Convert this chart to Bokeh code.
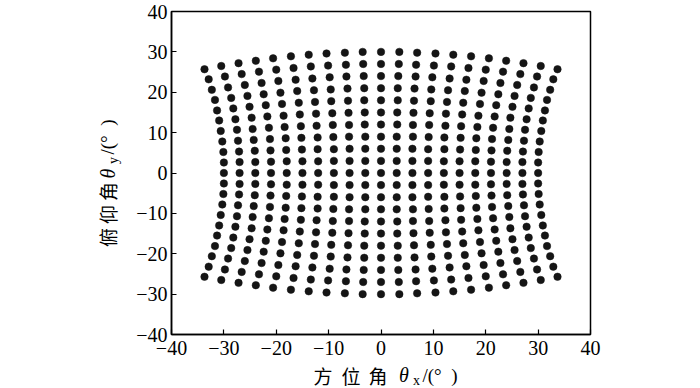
import math
from bokeh.plotting import figure
from bokeh.models import FixedTicker, Label, Range1d, ColumnDataSource
from bokeh.embed import file_html
from bokeh.resources import INLINE

tick_values = [-40, -30, -20, -10, 0, 10, 20, 30, 40]
tick_labels = ["\u221240", "\u221230", "\u221220", "\u221210", "0", "10", "20", "30", "40"]

# azimuth (theta_x) of every point, one list per grid row, top row first
az_rows = [
    [-33.7, -30.5, -27.2, -23.9, -20.6, -17.2, -13.8, -10.4, -6.9, -3.5, 0, 3.5, 6.9, 10.4, 13.8, 17.2, 20.6, 23.9, 27.2, 30.5, 33.7],
    [-32.9, -29.8, -26.6, -23.3, -20.0, -16.7, -13.4, -10.1, -6.7, -3.4, 0, 3.4, 6.7, 10.1, 13.4, 16.7, 20.0, 23.3, 26.6, 29.8, 32.9],
    [-32.3, -29.2, -26.0, -22.8, -19.6, -16.3, -13.1, -9.8, -6.6, -3.3, 0, 3.3, 6.6, 9.8, 13.1, 16.3, 19.6, 22.8, 26.0, 29.2, 32.3],
    [-31.7, -28.6, -25.5, -22.4, -19.2, -16.0, -12.8, -9.6, -6.4, -3.2, 0, 3.2, 6.4, 9.6, 12.8, 16.0, 19.2, 22.4, 25.5, 28.6, 31.7],
    [-31.3, -28.2, -25.1, -22.0, -18.9, -15.7, -12.6, -9.5, -6.3, -3.2, 0, 3.2, 6.3, 9.5, 12.6, 15.7, 18.9, 22.0, 25.1, 28.2, 31.3],
    [-30.9, -27.8, -24.7, -21.7, -18.6, -15.5, -12.4, -9.3, -6.2, -3.1, 0, 3.1, 6.2, 9.3, 12.4, 15.5, 18.6, 21.7, 24.7, 27.8, 30.9],
    [-30.6, -27.5, -24.5, -21.4, -18.4, -15.3, -12.3, -9.2, -6.1, -3.1, 0, 3.1, 6.1, 9.2, 12.3, 15.3, 18.4, 21.4, 24.5, 27.5, 30.6],
    [-30.3, -27.3, -24.3, -21.2, -18.2, -15.2, -12.1, -9.1, -6.1, -3.0, 0, 3.0, 6.1, 9.1, 12.1, 15.2, 18.2, 21.2, 24.3, 27.3, 30.3],
    [-30.1, -27.1, -24.1, -21.1, -18.1, -15.1, -12.1, -9.0, -6.0, -3.0, 0, 3.0, 6.0, 9.0, 12.1, 15.1, 18.1, 21.1, 24.1, 27.1, 30.1],
    [-30.0, -27.0, -24.0, -21.0, -18.0, -15.0, -12.0, -9.0, -6.0, -3.0, 0, 3.0, 6.0, 9.0, 12.0, 15.0, 18.0, 21.0, 24.0, 27.0, 30.0],
    [-30.0, -27.0, -24.0, -21.0, -18.0, -15.0, -12.0, -9.0, -6.0, -3.0, 0, 3.0, 6.0, 9.0, 12.0, 15.0, 18.0, 21.0, 24.0, 27.0, 30.0],
    [-30.0, -27.0, -24.0, -21.0, -18.0, -15.0, -12.0, -9.0, -6.0, -3.0, 0, 3.0, 6.0, 9.0, 12.0, 15.0, 18.0, 21.0, 24.0, 27.0, 30.0],
    [-30.1, -27.1, -24.1, -21.1, -18.1, -15.1, -12.1, -9.0, -6.0, -3.0, 0, 3.0, 6.0, 9.0, 12.1, 15.1, 18.1, 21.1, 24.1, 27.1, 30.1],
    [-30.3, -27.3, -24.3, -21.2, -18.2, -15.2, -12.1, -9.1, -6.1, -3.0, 0, 3.0, 6.1, 9.1, 12.1, 15.2, 18.2, 21.2, 24.3, 27.3, 30.3],
    [-30.6, -27.5, -24.5, -21.4, -18.4, -15.3, -12.3, -9.2, -6.1, -3.1, 0, 3.1, 6.1, 9.2, 12.3, 15.3, 18.4, 21.4, 24.5, 27.5, 30.6],
    [-30.9, -27.8, -24.7, -21.7, -18.6, -15.5, -12.4, -9.3, -6.2, -3.1, 0, 3.1, 6.2, 9.3, 12.4, 15.5, 18.6, 21.7, 24.7, 27.8, 30.9],
    [-31.3, -28.2, -25.1, -22.0, -18.9, -15.7, -12.6, -9.5, -6.3, -3.2, 0, 3.2, 6.3, 9.5, 12.6, 15.7, 18.9, 22.0, 25.1, 28.2, 31.3],
    [-31.7, -28.6, -25.5, -22.4, -19.2, -16.0, -12.8, -9.6, -6.4, -3.2, 0, 3.2, 6.4, 9.6, 12.8, 16.0, 19.2, 22.4, 25.5, 28.6, 31.7],
    [-32.3, -29.2, -26.0, -22.8, -19.6, -16.3, -13.1, -9.8, -6.6, -3.3, 0, 3.3, 6.6, 9.8, 13.1, 16.3, 19.6, 22.8, 26.0, 29.2, 32.3],
    [-32.9, -29.8, -26.6, -23.3, -20.0, -16.7, -13.4, -10.1, -6.7, -3.4, 0, 3.4, 6.7, 10.1, 13.4, 16.7, 20.0, 23.3, 26.6, 29.8, 32.9],
    [-33.7, -30.5, -27.2, -23.9, -20.6, -17.2, -13.8, -10.4, -6.9, -3.5, 0, 3.5, 6.9, 10.4, 13.8, 17.2, 20.6, 23.9, 27.2, 30.5, 33.7],
]

# elevation (theta_y) of every point, same layout
el_rows = [
    [25.7, 26.5, 27.2, 27.8, 28.4, 28.9, 29.3, 29.6, 29.8, 30.0, 30.0, 30.0, 29.8, 29.6, 29.3, 28.9, 28.4, 27.8, 27.2, 26.5, 25.7],
    [23.2, 23.9, 24.5, 25.1, 25.6, 26.0, 26.4, 26.6, 26.8, 27.0, 27.0, 27.0, 26.8, 26.6, 26.4, 26.0, 25.6, 25.1, 24.5, 23.9, 23.2],
    [20.6, 21.2, 21.8, 22.3, 22.8, 23.1, 23.4, 23.7, 23.9, 24.0, 24.0, 24.0, 23.9, 23.7, 23.4, 23.1, 22.8, 22.3, 21.8, 21.2, 20.6],
    [18.1, 18.6, 19.1, 19.5, 19.9, 20.3, 20.5, 20.7, 20.9, 21.0, 21.0, 21.0, 20.9, 20.7, 20.5, 20.3, 19.9, 19.5, 19.1, 18.6, 18.1],
    [15.5, 16.0, 16.4, 16.8, 17.1, 17.4, 17.6, 17.8, 17.9, 18.0, 18.0, 18.0, 17.9, 17.8, 17.6, 17.4, 17.1, 16.8, 16.4, 16.0, 15.5],
    [13.0, 13.3, 13.7, 14.0, 14.2, 14.5, 14.7, 14.8, 14.9, 15.0, 15.0, 15.0, 14.9, 14.8, 14.7, 14.5, 14.2, 14.0, 13.7, 13.3, 13.0],
    [10.4, 10.7, 10.9, 11.2, 11.4, 11.6, 11.7, 11.9, 11.9, 12.0, 12.0, 12.0, 11.9, 11.9, 11.7, 11.6, 11.4, 11.2, 10.9, 10.7, 10.4],
    [7.8, 8.0, 8.2, 8.4, 8.6, 8.7, 8.8, 8.9, 9.0, 9.0, 9.0, 9.0, 9.0, 8.9, 8.8, 8.7, 8.6, 8.4, 8.2, 8.0, 7.8],
    [5.2, 5.3, 5.5, 5.6, 5.7, 5.8, 5.9, 5.9, 6.0, 6.0, 6.0, 6.0, 6.0, 5.9, 5.9, 5.8, 5.7, 5.6, 5.5, 5.3, 5.2],
    [2.6, 2.7, 2.7, 2.8, 2.9, 2.9, 2.9, 3.0, 3.0, 3.0, 3.0, 3.0, 3.0, 3.0, 2.9, 2.9, 2.9, 2.8, 2.7, 2.7, 2.6],
    [0, 0, 0, 0, 0, 0, 0, 0, 0, 0, 0, 0, 0, 0, 0, 0, 0, 0, 0, 0, 0],
    [-2.6, -2.7, -2.7, -2.8, -2.9, -2.9, -2.9, -3.0, -3.0, -3.0, -3.0, -3.0, -3.0, -3.0, -2.9, -2.9, -2.9, -2.8, -2.7, -2.7, -2.6],
    [-5.2, -5.3, -5.5, -5.6, -5.7, -5.8, -5.9, -5.9, -6.0, -6.0, -6.0, -6.0, -6.0, -5.9, -5.9, -5.8, -5.7, -5.6, -5.5, -5.3, -5.2],
    [-7.8, -8.0, -8.2, -8.4, -8.6, -8.7, -8.8, -8.9, -9.0, -9.0, -9.0, -9.0, -9.0, -8.9, -8.8, -8.7, -8.6, -8.4, -8.2, -8.0, -7.8],
    [-10.4, -10.7, -10.9, -11.2, -11.4, -11.6, -11.7, -11.9, -11.9, -12.0, -12.0, -12.0, -11.9, -11.9, -11.7, -11.6, -11.4, -11.2, -10.9, -10.7, -10.4],
    [-13.0, -13.3, -13.7, -14.0, -14.2, -14.5, -14.7, -14.8, -14.9, -15.0, -15.0, -15.0, -14.9, -14.8, -14.7, -14.5, -14.2, -14.0, -13.7, -13.3, -13.0],
    [-15.5, -16.0, -16.4, -16.8, -17.1, -17.4, -17.6, -17.8, -17.9, -18.0, -18.0, -18.0, -17.9, -17.8, -17.6, -17.4, -17.1, -16.8, -16.4, -16.0, -15.5],
    [-18.1, -18.6, -19.1, -19.5, -19.9, -20.3, -20.5, -20.7, -20.9, -21.0, -21.0, -21.0, -20.9, -20.7, -20.5, -20.3, -19.9, -19.5, -19.1, -18.6, -18.1],
    [-20.6, -21.2, -21.8, -22.3, -22.8, -23.1, -23.4, -23.7, -23.9, -24.0, -24.0, -24.0, -23.9, -23.7, -23.4, -23.1, -22.8, -22.3, -21.8, -21.2, -20.6],
    [-23.2, -23.9, -24.5, -25.1, -25.6, -26.0, -26.4, -26.6, -26.8, -27.0, -27.0, -27.0, -26.8, -26.6, -26.4, -26.0, -25.6, -25.1, -24.5, -23.9, -23.2],
    [-25.7, -26.5, -27.2, -27.8, -28.4, -28.9, -29.3, -29.6, -29.8, -30.0, -30.0, -30.0, -29.8, -29.6, -29.3, -28.9, -28.4, -27.8, -27.2, -26.5, -25.7],
]

x_title_cjk = "方位角"
y_title_cjk = "俯仰角"
title_symbol = "θ"
x_sub = "x"
y_sub = "y"
unit_text = "/(°\u00a0\u00a0)"

xs = [v for row in az_rows for v in row]
ys = [v for row in el_rows for v in row]
src = ColumnDataSource(dict(x=xs, y=ys))

# pixel geometry of the frame on the page
FL, FR, FT, FB = 171, 590, 11, 334
W, H = 610, 388

p = figure(width=W, height=H, output_backend="svg", toolbar_location=None,
           x_range=Range1d(-40, 40), y_range=Range1d(-40, 40),
           min_border_left=FL, min_border_right=W - FR, min_border_top=FT,
           min_border_bottom=H - FB)
p.styles = {"position": "absolute", "top": "0px", "left": "0px"}
p.grid.visible = False
p.background_fill_color = "white"
p.border_fill_color = "white"
p.outline_line_color = "black"
p.outline_line_width = 1.5

for ax in (p.xaxis[0], p.yaxis[0]):
    ax.ticker = FixedTicker(ticks=tick_values)
    ax.major_label_overrides = {v: s for v, s in zip(tick_values, tick_labels)}
    ax.major_tick_in = 5
    ax.major_tick_out = 0
    ax.minor_tick_line_color = None
    ax.axis_line_width = 1.5
    ax.major_tick_line_width = 1.2
    ax.major_label_text_font = "Liberation Serif"
    ax.major_label_text_font_size = "20px"
    ax.major_label_text_color = "black"
p.xaxis.major_label_standoff = 6
p.yaxis.major_label_standoff = 4

p.scatter("x", "y", source=src, size=7.5, fill_color="#151515", line_color="#151515", line_width=0.5)

# transparent overlay in page-pixel coordinates for the axis titles
t = figure(width=700, height=388, output_backend="svg", toolbar_location=None,
           x_range=Range1d(0, 700), y_range=Range1d(388, 0),
           x_axis_type=None, y_axis_type=None, min_border=0)
t.styles = {"position": "absolute", "top": "0px", "left": "0px"}
t.grid.visible = False
t.outline_line_color = None
t.background_fill_color = None
t.border_fill_color = None

def lab(text, px, py, font, size, style="normal", align="center", baseline="middle", angle=0):
    t.add_layout(Label(x=px, y=py, text=text, text_font=font,
                       text_font_size=size, text_font_style=style,
                       text_align=align, text_baseline=baseline, angle=angle,
                       text_color="black"))

cjk = "Noto Sans CJK SC"
serif = "Liberation Serif"
# x title
XT = 375
for ch, cx in zip(x_title_cjk, [322.5, 350.5, 377.5]):
    lab(ch, cx, XT, cjk, "19px")
lab(title_symbol, 403.5, XT - 0.5, serif, "20px", style="italic")
lab(x_sub, 416, XT + 5, serif, "14px")
lab(unit_text, 422, XT, serif, "19px", align="left")
# y title (rotated)
for ch, cy in zip(y_title_cjk, [237, 214, 191]):
    lab(ch, 107, cy, cjk, "19px", angle=math.pi / 2)
lab(title_symbol, 107, 173, serif, "20px", style="italic", angle=math.pi / 2)
lab(y_sub, 113, 160, serif, "14px", angle=math.pi / 2)
lab(unit_text, 107, 154, serif, "19px", align="left", angle=math.pi / 2)

open("out.html", "w").write(file_html([p, t], INLINE))
